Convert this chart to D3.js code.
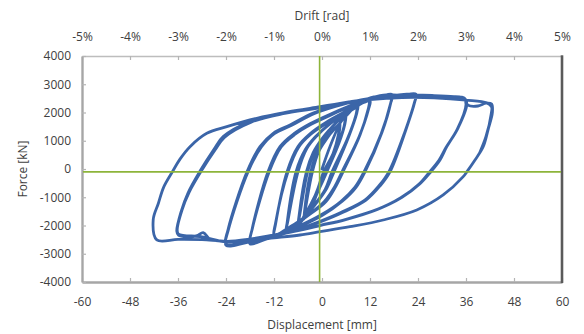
<!DOCTYPE html>
<html><head><meta charset="utf-8">
<script src="https://cdn.jsdelivr.net/npm/d3@7"></script>
<style>
body{margin:0;background:#fff}
svg{display:block}
text{font-family:"Open Sans",sans-serif}
</style>
</head><body>
<svg id="c" width="584" height="334"></svg>
<script>
// ---- axis ticks ----
const dispTicks = [-60,-48,-36,-24,-12,0,12,24,36,48,60];
const driftTicks = [-0.05,-0.04,-0.03,-0.02,-0.01,0,0.01,0.02,0.03,0.04,0.05];
const driftLabels = ["-5%","-4%","-3%","-2%","-1%","0%","1%","2%","3%","4%","5%"];
const forceTicks = [-4000,-3000,-2000,-1000,0,1000,2000,3000,4000];
const refForce = -100;   // green horizontal reference line
const refDisp = -0.6;    // green vertical reference line

// ---- hysteresis branches [displacement mm, force kN] ----
const start = [[0,0],[2,800],[4.5,1600]];
const low45a = [[4.5,1600],[4.2,1250],[3,600],[0.6,-100],[-0.8,-650],[-2.5,-1250],[-4.5,-1750]];
const up45a = [[-4.5,-1750],[-4.2,-1400],[-2.6,-100],[-1,600],[1,1050],[3,1400],[4.5,1600]];
const low45b = [[4.4,1570],[4.1,1220],[2.8,560],[0.4,-100],[-1,-680],[-2.7,-1270],[-4.5,-1780]];
const up45b = [[-4.5,-1780],[-4.1,-1380],[-2.4,-100],[-0.8,620],[1.2,1070],[3.1,1420],[4.4,1570]];
const low45c = [[4.5,1620],[4.3,1280],[3.2,640],[0.8,-100],[-0.6,-620],[-2.3,-1230],[-4.4,-1730]];
const up45c = [[-4.4,-1730],[-4.3,-1420],[-2.8,-100],[-1.2,580],[0.8,1030],[2.9,1380],[4.5,1620]];
const ext6 = [[5.3,1780],[6,1900]];
const low6a = [[6,1900],[5.6,1550],[4,850],[1,-100],[-0.5,-600],[-2.5,-1200],[-4.5,-1700],[-6,-2000]];
const up6a = [[-6,-2000],[-5.6,-1600],[-3.75,-100],[-2,600],[0,1050],[2,1400],[4,1700],[6,1900]];
const low6b = [[5.9,1850],[5.5,1500],[3.8,800],[0.8,-100],[-0.7,-620],[-2.7,-1220],[-4.7,-1720],[-6,-2020]];
const up6b = [[-6,-2020],[-5.5,-1580],[-3.6,-100],[-1.8,620],[0.2,1070],[2.2,1420],[4.1,1710],[5.9,1850]];
const low6c = [[6,1880],[5.7,1580],[4.2,900],[1.2,-100],[-0.3,-580],[-2.3,-1180],[-4.3,-1680],[-5.9,-1980]];
const up6c = [[-5.9,-1980],[-5.7,-1620],[-3.9,-100],[-2.2,580],[-0.2,1030],[1.8,1380],[3.9,1690],[6,1880]];
const ext9 = [[7.5,2100],[9,2250]];
const low9a = [[9,2250],[8.6,1950],[6.5,1100],[2.75,-100],[1,-700],[-2,-1300],[-5,-1800],[-7.5,-2100],[-9,-2250]];
const up9a = [[-9,-2250],[-8.6,-1850],[-6.25,-100],[-4,700],[-1.5,1150],[2,1600],[6,1980],[9,2250]];
const low9b = [[8.9,2220],[8.5,1920],[6.3,1050],[2.5,-100],[0.8,-720],[-2.2,-1320],[-5.2,-1820],[-7.6,-2120],[-9,-2270]];
const up9b = [[-9,-2270],[-8.5,-1820],[-6,-100],[-3.8,720],[-1.3,1170],[2.2,1620],[6.1,2000],[8.9,2220]];
const low9c = [[9,2240],[8.7,1980],[6.7,1150],[3,-100],[1.2,-680],[-1.8,-1280],[-4.8,-1780],[-7.3,-2080],[-8.9,-2230]];
const up9c = [[-8.9,-2230],[-8.7,-1880],[-6.5,-100],[-4.2,680],[-1.7,1130],[1.8,1580],[5.9,1960],[9,2240]];
const ext12 = [[10.5,2370],[12,2450]];
const low12a = [[12,2450],[11.6,2150],[9.5,1200],[5.25,-100],[3.5,-600],[1,-1150],[-3,-1600],[-7,-2000],[-10,-2250],[-12,-2400]];
const up12a = [[-12,-2400],[-11.6,-1950],[-8.75,-100],[-6,800],[-3,1250],[1,1650],[6,2050],[9,2300],[12,2420]];
const low12b = [[12,2420],[11.6,2100],[9.3,1150],[5,-100],[3.2,-620],[0.6,-1150],[-3.2,-1600],[-7.2,-1980],[-10,-2230],[-12,-2380]];
const up12b = [[-12,-2380],[-11.6,-1900],[-8.5,-100],[-5.8,780],[-2.8,1230],[1.2,1620],[6,2020],[9,2280],[12,2440]];
const ext18 = [[15,2580],[17.5,2640]];
const low18a = [[17.5,2640],[17.2,2350],[15,1300],[10.75,-100],[8.5,-650],[5,-1150],[0,-1650],[-5,-2000],[-10,-2280],[-14,-2480],[-18,-2650]];
const up18a = [[-18,-2650],[-17.5,-2150],[-13.5,-100],[-10.5,790],[-7,1250],[-3,1600],[3,2000],[8,2300],[13,2550],[17.5,2610]];
const low18b = [[17.5,2610],[17.1,2300],[14.8,1250],[10.5,-100],[8.2,-650],[4.7,-1150],[-0.3,-1630],[-5.2,-1980],[-10.2,-2260],[-14,-2460],[-18,-2620]];
const up18b = [[-18,-2620],[-17.4,-2100],[-13.2,-100],[-10.2,780],[-6.7,1230],[-2.7,1580],[3.3,1980],[8,2280],[13,2530],[17.5,2620]];
const ext24 = [[20,2610],[23.5,2650]];
const low24a = [[23.5,2650],[23.2,2380],[21,1400],[17,-100],[14.5,-600],[11,-1100],[5,-1550],[0,-1850],[-6,-2150],[-12,-2380],[-18,-2560],[-24,-2650]];
const up24a = [[-24,-2650],[-23.5,-2150],[-18.75,-100],[-15.5,790],[-12.2,1264],[-8,1557],[-2.2,1980],[5,2300],[12,2500],[18,2600],[23.5,2630]];
const low24b = [[23.5,2630],[23.1,2350],[20.8,1350],[16.7,-100],[14.2,-600],[10.7,-1100],[4.7,-1540],[-0.3,-1840],[-6.2,-2140],[-12.2,-2370],[-18.2,-2580],[-24,-2700]];
const up24b = [[-24,-2700],[-23.4,-2150],[-18.5,-100],[-15.2,770],[-11.9,1250],[-7.7,1540],[-2,1960],[5,2280],[12,2480],[18,2600],[23.5,2620]];
const ext36 = [[28,2600],[33,2560],[35.5,2520]];
const low36a = [[35.5,2520],[36.2,2300],[34,1450],[31.2,790],[29.5,320],[27.2,-100],[24.5,-520],[20,-1000],[14,-1420],[6,-1780],[0,-1980],[-6,-2170],[-12,-2330],[-18,-2480],[-24,-2560],[-28,-2480],[-29.7,-2250],[-31.5,-2380],[-35.9,-2336]];
const up36a = [[-35.9,-2336],[-36.3,-2200],[-35.2,-1500],[-33.5,-850],[-30.6,-100],[-27,700],[-24.7,1145],[-18,1680],[-10,1980],[0,2200],[10,2450],[20,2580],[30,2570],[35.5,2500]];
const low36b = [[35.5,2500],[36,2280],[33.8,1400],[31,760],[29.2,300],[26.9,-100],[24.2,-540],[19.7,-1020],[13.7,-1440],[5.7,-1800],[-0.3,-2000],[-6.3,-2190],[-12.3,-2350],[-18.3,-2500],[-24,-2580],[-30,-2400],[-35.9,-2300]];
const up36b = [[-35.9,-2300],[-36.2,-2150],[-35,-1450],[-33.2,-820],[-30.3,-100],[-26.7,680],[-24.4,1120],[-17.7,1660],[-9.7,1960],[0.3,2180],[10,2430],[20,2560],[30,2560],[35.5,2510]];
const ext42 = [[36.5,2260],[39,2230],[41,2330],[42.4,2300]];
const low42 = [[42.4,2300],[42.6,2000],[41.5,1380],[40.3,790],[38.25,320],[36.2,-100],[35.3,-272],[30.3,-920],[23.7,-1451],[15.3,-1805],[7,-2042],[-0.5,-2220],[-5.5,-2336],[-12,-2440],[-18,-2530],[-24,-2560],[-30,-2500],[-36,-2490],[-41.3,-2510]];
const up42 = [[-41.3,-2510],[-42.2,-1800],[-40.9,-1214],[-39.6,-650],[-37.4,-100],[-35.5,350],[-33,790],[-28.8,1263],[-23.8,1500],[-16.3,1795],[-8,2028],[-0.5,2205],[4.5,2325],[12,2460],[20,2530],[28,2520],[36,2440],[41.2,2340],[42.4,2200]];
const finish = [[42.3,1950],[41,1150],[39.5,600]];

const branches = [start,
  low45a, up45a, low45b, up45b, low45c, up45c, low45a, up45a, low45b, up45b, low45c, up45c,
  ext6, low6a, up6a, low6b, up6b, low6c, up6c, low6a, up6a, low6b, up6b, low6c, up6c,
  ext9, low9a, up9a, low9b, up9b, low9c, up9c, low9a, up9a, low9b, up9b, low9c, up9c,
  ext12, low12a, up12a, low12b, up12b, low12a, up12a, low12b, up12b,
  ext18, low18a, up18a, low18b, up18b,
  ext24, low24a, up24a, low24b, up24b, ext36, low36a, up36a, low36b, up36b,
  ext42, low42, up42, finish];

// ---- drawing ----
const svg = d3.select('#c');
const L = 82, R = 562, T = 56, B = 282;
const x = d3.scaleLinear().domain([-60,60]).range([L,R]);
const xd = d3.scaleLinear().domain([-0.05,0.05]).range([L,R]);
const y = d3.scaleLinear().domain([-4000,4000]).range([B,T]);

const pts = [];
branches.forEach(b => b.forEach(p => {
  const last = pts[pts.length-1];
  if (!last || last[0] !== p[0] || last[1] !== p[1]) pts.push(p);
}));

const txt = '#404040';
const plain = d => String(d);

// axes
const gB = svg.append('g').attr('transform',`translate(0,${B})`)
  .call(d3.axisBottom(x).tickValues(dispTicks).tickFormat(plain).tickSizeInner(-4).tickSizeOuter(0).tickPadding(15));
const gT = svg.append('g').attr('transform',`translate(0,${T})`)
  .call(d3.axisTop(xd).tickValues(driftTicks).tickFormat((d,i)=>driftLabels[i]).tickSizeInner(-4).tickSizeOuter(0).tickPadding(15));
const gL = svg.append('g').attr('transform',`translate(${L},0)`)
  .call(d3.axisLeft(y).tickValues(forceTicks).tickFormat(plain).tickSizeInner(-4).tickSizeOuter(0).tickPadding(11));

[gB,gT,gL].forEach(g => {
  g.selectAll('text').attr('fill',txt).style('font-size','12px').style('font-family','"Open Sans",sans-serif');
  g.selectAll('.tick line').attr('stroke','#b4b4b4').attr('stroke-width',1.2);
});
gB.select('.domain').attr('stroke','#a6a6a6').attr('stroke-width',2.4);
gL.select('.domain').attr('stroke','#a6a6a6').attr('stroke-width',2.4);
gT.select('.domain').attr('stroke','#bdbdbd').attr('stroke-width',1.4);
svg.append('line').attr('x1',R).attr('x2',R).attr('y1',T-0.7).attr('y2',B+1)
  .attr('stroke','#5a5a5a').attr('stroke-width',2.6);

// hysteresis curve
const line = d3.line().x(d=>x(d[0])).y(d=>y(d[1])).curve(d3.curveCatmullRom.alpha(0.5));
svg.append('path').datum(pts).attr('d',line)
  .attr('fill','none').attr('stroke','#3b65a8').attr('stroke-width',2.8)
  .attr('stroke-linejoin','round').attr('stroke-linecap','round');

// green reference lines
svg.append('line').attr('x1',L+1).attr('x2',R-1).attr('y1',y(refForce)).attr('y2',y(refForce))
  .attr('stroke','#8db43a').attr('stroke-width',1.6);
svg.append('line').attr('x1',x(refDisp)).attr('x2',x(refDisp)).attr('y1',T).attr('y2',B)
  .attr('stroke','#8db43a').attr('stroke-width',1.6);

// titles
svg.append('text').attr('x',322).attr('y',19.5).attr('text-anchor','middle')
  .attr('fill',txt).style('font-size','12px').text('Drift [rad]');
svg.append('text').attr('x',322).attr('y',329).attr('text-anchor','middle')
  .attr('fill',txt).style('font-size','12px').text('Displacement [mm]');
svg.append('text').attr('transform','translate(26.5,169) rotate(-90)').attr('text-anchor','middle')
  .attr('fill',txt).style('font-size','12px').text('Force [kN]');
</script>
</body></html>
